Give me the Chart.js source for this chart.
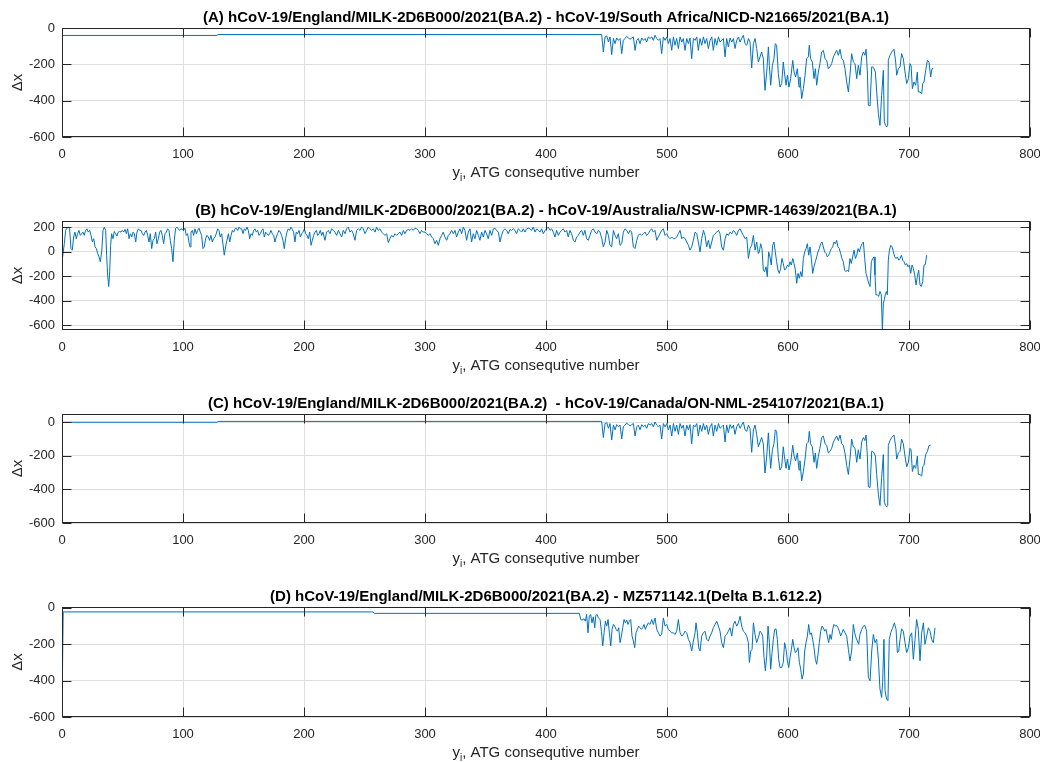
<!DOCTYPE html>
<html>
<head>
<meta charset="utf-8">
<script src="https://cdn.jsdelivr.net/npm/chart.js@4.4.0/dist/chart.umd.min.js"></script>
<style>
  body { margin: 0; background: #fff; }
  #wrap { position: relative; width: 1040px; height: 762px; }
  .panel { position: absolute; left: 0; width: 1040px; height: 193px; }
</style>
</head>
<body>
<div id="wrap">
  <div class="panel" style="top:0px"><canvas id="chartA"></canvas></div>
  <div class="panel" style="top:193px"><canvas id="chartB"></canvas></div>
  <div class="panel" style="top:386px"><canvas id="chartC"></canvas></div>
  <div class="panel" style="top:579px;height:194px"><canvas id="chartD"></canvas></div>
</div>
<script>
// Tick positions
const xTicks = [0, 100, 200, 300, 400, 500, 600, 700, 800];
const yTicksA = [0, -200, -400, -600];
const yTicksB = [200, 0, -200, -400, -600];
const yTicksC = [0, -200, -400, -600];
const yTicksD = [0, -200, -400, -600];

// Panel titles
const titleA = '(A) hCoV-19/England/MILK-2D6B000/2021(BA.2) - hCoV-19/South Africa/NICD-N21665/2021(BA.1)';
const titleB = '(B) hCoV-19/England/MILK-2D6B000/2021(BA.2) - hCoV-19/Australia/NSW-ICPMR-14639/2021(BA.1)';
const titleC = '(C) hCoV-19/England/MILK-2D6B000/2021(BA.2)  - hCoV-19/Canada/ON-NML-254107/2021(BA.1)';
const titleD = '(D) hCoV-19/England/MILK-2D6B000/2021(BA.2) - MZ571142.1(Delta B.1.612.2)';

// Series: [y_i, delta x]
const seriesA = [[0,-41],[128,-41],[129,-36],[446,-36],
[447.4,-132],[448.8,-49],[450.2,-44],[451.6,-77],[452.9,-49],[454.3,-147],[455.7,-58],[457.1,-86],[458.4,-55],[459.8,-68],[461.2,-58],[462.6,-141],[463.9,-68],[465.3,-58],[466.7,-46],[468.1,-55],[469.5,-62],[470.8,-55],[472.2,-49],[473.6,-123],[475.0,-68],[476.3,-58],[477.7,-86],[479.1,-55],[480.5,-68],[481.9,-58],[483.2,-77],[484.6,-49],[486.0,-58],[487.4,-49],[488.7,-68],[490.1,-40],[491.5,-58],[492.9,-68],[494.2,-58],[495.6,-141],[497.0,-49],[498.4,-68],[499.8,-49],[501.1,-86],[502.5,-58],[503.9,-123],[505.3,-49],[506.6,-95],[508.0,-58],[509.4,-113],[510.8,-49],[512.2,-77],[513.5,-58],[514.9,-123],[516.3,-58],[517.7,-86],[519.0,-55],[520.4,-169],[521.8,-58],[523.2,-68],[524.6,-49],[525.9,-123],[527.3,-58],[528.7,-95],[530.1,-49],[531.4,-86],[532.8,-58],[534.2,-113],[535.6,-68],[537.0,-49],[538.3,-123],[539.7,-58],[541.1,-95],[542.5,-49],[543.8,-77],[545.2,-68],[546.6,-58],[548.0,-159],[549.3,-58],[550.7,-104],[552.1,-55],[553.5,-77],[554.9,-58],[556.2,-113],[557.6,-68],[559.0,-49],[560.4,-77],[561.7,-58],[563.1,-40],[564.5,-86],[565.9,-95],[567.3,-58],[568.6,-77],[570.0,-220],[571.4,-86],[572.8,-58],[574.1,-113],[575.5,-187],
[578.2,-132],[579.6,-169],[581.0,-343],[582.4,-242],[583.8,-104],[584.6,-205],[585.7,-315],[587.1,-205],[588.4,-169],[589.5,-86],[590.6,-95],[592.0,-251],[593.4,-325],[594.8,-306],[596.1,-187],[597.0,-242],[598.4,-315],[599.5,-260],[600.8,-325],[602.2,-279],[603.9,-178],[605.0,-242],[606.3,-270],[607.7,-224],[609.1,-325],[609.9,-270],[611.3,-389],[612.7,-334],[614.1,-260],[615.4,-169],[616.8,-159],[617.6,-95],[618.7,-169],[620.1,-187],[621.5,-279],[622.6,-224],[623.7,-315],[625.1,-242],[626.4,-196],[627.8,-132],[629.2,-123],[630.6,-169],[632.0,-178],[633.3,-224],[634.7,-214],[636.1,-196],[637.5,-159],[638.8,-141],[640.2,-123],[641.6,-150],[643.0,-117],[644.4,-169],[645.7,-178],[647.1,-224],[648.5,-297],[649.9,-352],[651.2,-260],[652.6,-141],[654.0,-187],[655.4,-196],[656.8,-279],[658.1,-205],[659.5,-260],[660.9,-159],[662.3,-132],[663.6,-150],[664.5,-117],[665.6,-242],[666.4,-425],[667.8,-429],[669.2,-214],[670.0,-214],[671.1,-224],[672.2,-242],[673.3,-352],[674.7,-471],[676.0,-536],[677.4,-370],[678.8,-233],[679.6,-517],[680.7,-536],[681.5,-545],[682.4,-536],[682.9,-178],[684.3,-150],[685.7,-132],[687.6,-117],[689.0,-187],[689.8,-260],[691.2,-224],[692.6,-214],[693.9,-141],[695.3,-169],[696.7,-242],[698.1,-306],[699.5,-279],[700.8,-196],[701.7,-205],[702.8,-334],[704.1,-297],[705.5,-315],[706.9,-242],[707.7,-352],[709.1,-352],[710.5,-361],[711.3,-306],[712.4,-297],[713.8,-233],[715.2,-178],[716.5,-187],[717.9,-270],[719.0,-224],[720.1,-224]];

const seriesB = [[0,-81],[1.9,67],[3.0,176],[4.1,194],[5.2,203],[6.3,189],[7.4,27],[8.5,14],[9.6,122],[10.7,162],[11.8,108],[12.9,149],[14.0,176],[15.1,135],[16.2,149],[17.3,162],[18.4,135],[19.5,176],[20.6,189],[21.7,162],[22.9,176],[24.0,135],[25.1,81],[26.2,108],[27.3,41],[28.4,27],[29.5,-14],[30.6,-41],[31.7,-81],[32.8,0],[33.9,176],[35.0,203],[36.1,176],[36.9,-27],[37.7,-189],[38.6,-284],[39.4,-162],[40.2,54],[41.0,149],[42.1,108],[43.2,167],[44.3,149],[45.4,130],[46.5,162],[47.6,167],[48.7,162],[49.8,176],[51.0,162],[52.1,184],[53.2,149],[54.3,189],[55.4,108],[56.5,149],[57.6,122],[58.7,162],[59.8,149],[60.9,81],[62.0,162],[63.1,189],[64.2,176],[65.3,176],[66.4,149],[67.5,135],[68.6,162],[69.7,176],[70.8,135],[71.9,81],[73.0,149],[74.1,27],[75.2,95],[76.3,108],[77.4,162],[78.5,67],[79.6,108],[80.7,162],[81.8,176],[82.9,135],[84.0,67],[85.1,149],[86.2,162],[87.3,189],[88.4,176],[89.5,95],[90.6,27],[91.7,-81],[92.8,95],[93.9,194],[95.0,203],[96.1,189],[97.2,176],[98.3,189],[99.4,184],[100.5,176],[101.6,194],[102.7,135],[103.8,149],[104.9,81],[105.8,41],[106.6,162],[107.7,176],[108.8,135],[109.9,189],[111.0,149],[112.1,176],[113.2,194],[114.3,162],[115.4,135],[116.5,27],[117.6,41],[118.7,108],[119.8,135],[120.9,122],[122.0,95],[123.1,135],[124.2,81],[125.3,108],[126.4,122],[127.5,149],[128.6,189],[129.7,176],[130.8,122],[131.9,149],[133.0,67],[134.1,-27],[135.2,41],[136.3,95],[137.5,149],[138.6,81],[139.7,135],[140.8,176],[141.9,162],[143.0,189],[144.1,194],[145.2,176],[146.3,203],[147.4,189],[148.5,189],[149.6,149],[150.7,189],[151.8,176],[152.9,203],[154.0,176],[155.1,108],[156.2,149],[157.3,135],[158.4,176],[159.5,189],[160.6,162],[161.7,176],[162.8,135],[163.9,149],[165.0,176],[166.1,189],[167.2,122],[168.3,162],[169.4,149],[170.5,135],[171.6,149],[172.7,176],[173.8,149],[174.9,135],[176.0,81],[177.1,122],[178.2,149],[179.3,176],[180.4,162],[181.5,135],[182.6,95],[183.7,27],[184.8,108],[185.9,162],[187.0,189],[188.1,176],[189.2,203],[190.3,184],[191.4,162],[192.5,81],[193.6,162],[194.7,149],[195.9,176],[197.0,122],[198.1,149],[199.2,162],[200.3,189],[201.4,149],[202.5,135],[203.6,108],[204.7,162],[205.8,54],[206.9,95],[208.0,135],[209.1,162],[210.2,176],[211.3,135],[212.4,149],[213.5,176],[214.6,135],[215.7,162],
[217.3,95],[218.7,162],[220.1,176],[221.5,149],[222.8,189],[224.2,176],[225.6,162],[227.0,135],[228.4,176],[229.7,149],[231.1,122],[232.5,176],[233.9,149],[235.2,189],[236.6,203],[238.0,162],[239.4,176],[240.7,149],[242.1,95],[243.5,176],[244.9,189],[246.3,176],[247.6,203],[249.0,189],[250.4,149],[251.8,176],[253.1,203],[254.5,189],[255.9,176],[257.3,189],[258.7,162],[260.0,203],[261.4,176],[262.8,189],[264.2,162],[265.5,149],[266.9,135],[268.3,149],[269.7,76],[271.0,108],[272.4,135],[273.8,122],[275.2,149],[276.6,135],[277.9,149],[279.3,162],[280.7,135],[282.1,176],[283.4,149],[284.8,176],[286.2,184],[287.6,176],[288.9,189],[290.3,176],[291.7,194],[293.1,189],[294.5,176],[295.8,149],[297.2,176],[298.6,162],[300.0,162],[301.4,149],[302.7,135],[304.1,149],[305.5,122],[306.9,108],[308.2,67],[309.6,95],[311.0,54],[312.4,108],[313.8,135],[315.1,162],[316.5,122],[317.9,95],[319.3,135],[320.6,149],[322.0,176],[323.4,149],[324.8,176],[326.1,122],[327.5,162],[328.9,189],[330.3,149],[331.7,203],[333.0,176],[334.4,95],[335.8,162],[337.2,189],[338.5,81],[339.9,149],[341.3,108],[342.7,176],[344.1,135],[345.4,95],[346.8,162],[348.2,122],[349.6,176],[350.9,149],[352.3,108],[353.7,176],[355.1,135],[356.5,189],[357.8,194],[359.2,176],[360.6,162],[362.0,81],[363.3,135],[364.7,176],[366.1,189],[367.5,176],[368.8,149],[370.2,184],[371.6,176],[373.0,189],[374.4,176],[375.7,149],[377.1,189],[378.5,176],[379.9,162],[381.2,189],[382.6,162],[384.0,189],[385.4,194],[386.8,189],[388.1,176],[389.5,203],[390.9,162],[392.3,189],[393.6,176],[395.0,162],[396.4,189],[397.8,149],[399.2,176],[400.5,189],[401.9,203],[403.3,176],[404.7,189],[406.0,162],[407.4,122],[408.8,176],[410.2,135],[411.6,162],[412.9,176],[414.3,189],[415.7,162],[417.1,176],[418.4,122],[419.8,176],[421.2,149],[422.6,95],[424.0,81],[425.3,122],[426.7,135],[428.1,162],[429.5,176],[430.8,135],[432.2,176],[433.6,108],[435.0,95],[436.3,135],[437.7,176],[439.1,189],[440.5,162],[441.9,149],[443.2,176],[444.6,162],
[446.1,108],[447.4,41],[448.8,81],[450.2,176],[451.6,135],[452.9,54],[454.3,41],[455.7,176],[457.1,135],[458.4,108],[459.8,149],[461.2,54],[462.6,67],[463.9,162],[465.3,189],[466.7,176],[468.1,149],[469.5,176],[470.8,162],[472.2,41],[473.6,27],[475.0,95],[476.3,135],[477.7,149],[479.1,135],[480.5,149],[481.9,162],[483.2,135],[484.6,149],[486.0,176],[487.4,189],[488.7,162],[490.1,176],[491.5,95],[492.9,122],[494.2,149],[495.6,176],[497.0,189],[498.4,135],[499.8,149],[501.1,122],[502.5,108],[503.9,122],[505.3,108],[506.6,108],[508.0,122],[509.4,149],[510.8,176],[512.2,108],[513.5,122],[514.9,108],[516.3,81],[517.7,54],[519.0,14],[520.4,41],[521.8,95],[523.2,162],[524.6,149],[525.9,81],[527.3,0],[528.7,108],[530.1,176],[531.4,135],[532.8,41],[534.2,95],[535.6,27],[537.0,81],[538.3,135],[539.7,149],[541.1,162],[542.5,176],[543.8,149],[545.2,41],[546.6,14],[548.0,108],[549.3,149],[550.7,135],[552.1,162],[553.5,149],[554.9,176],[556.2,162],[557.6,135],[559.0,176],[560.4,189],[561.7,162],[563.1,135],[564.5,108],[565.9,122],[567.3,-54],[568.6,27],[570.0,54],[571.4,135],[572.8,14],[574.1,81],[575.5,-14],
[576.3,0],[577.4,67],[578.5,27],[579.6,-149],[580.7,-162],[581.8,-122],[582.9,-203],[584.0,0],[585.1,-41],[586.2,-108],[587.3,54],[588.4,81],[589.5,0],[590.6,-81],[591.7,-149],[592.8,-176],[593.9,-135],[595.0,-54],[596.1,-95],[597.2,-149],[598.4,-135],[599.5,-108],[600.6,-122],[601.7,-81],[602.8,-108],[603.9,-54],[605.0,-95],[606.1,-149],[607.2,-257],[608.3,-176],[609.4,-216],[610.5,-162],[611.6,-203],[612.7,-54],[613.8,0],[614.9,27],[616.0,67],[617.1,-27],[618.2,41],[619.3,-54],[620.4,-176],[621.5,-122],[622.6,-81],[623.7,-41],[624.8,0],[625.9,27],[627.0,67],[628.1,81],[629.2,41],[630.3,0],[631.4,-14],[632.5,-41],[633.6,-27],[634.7,0],[635.8,27],[636.9,41],[638.0,81],[639.1,67],[640.2,95],[641.3,41],[642.4,27],[643.5,-14],[644.6,-54],[645.7,-81],[646.8,-149],[647.9,-162],[649.0,-149],[650.1,-162],[651.2,-54],[652.3,-95],[653.4,-41],[654.6,14],[655.7,-54],[656.8,-27],[657.9,27],[659.0,0],[660.1,41],[661.2,67],[662.3,81],[663.4,-54],[664.5,-176],[665.6,-216],[666.7,-257],[667.8,-284],[668.9,-81],[670.0,-54],[671.1,-41],[671.9,-189],[672.7,-351],[673.8,-351],[674.9,-365],[676.0,-324],[677.1,-351],[678.0,-640],[678.8,-419],[679.6,-392],[680.4,-351],[681.3,-324],[682.1,-351],[682.9,-68],[683.8,14],[684.9,54],[686.0,41],[687.1,0],[688.2,-41],[689.3,-54],[690.4,-41],[691.5,-68],[692.6,-54],[693.7,-27],[694.8,-68],[695.9,-81],[697.0,-108],[698.1,-95],[699.2,-122],[700.3,-108],[701.4,-176],[702.5,-108],[703.6,-135],[704.7,-189],[705.8,-270],[706.9,-203],[708.0,-149],[709.1,-270],[710.2,-284],[711.3,-243],[712.4,-108],[713.5,-103],[714.6,-27]];

const seriesC = [[0,-1],[128,-1],[129,4],[446,4],
[447.4,-92],[448.8,-9],[450.2,-4],[451.6,-37],[452.9,-9],[454.3,-107],[455.7,-18],[457.1,-46],[458.4,-15],[459.8,-28],[461.2,-18],[462.6,-101],[463.9,-28],[465.3,-18],[466.7,-6],[468.1,-15],[469.5,-22],[470.8,-15],[472.2,-9],[473.6,-83],[475.0,-28],[476.3,-18],[477.7,-46],[479.1,-15],[480.5,-28],[481.9,-18],[483.2,-37],[484.6,-9],[486.0,-18],[487.4,-9],[488.7,-28],[490.1,0],[491.5,-18],[492.9,-28],[494.2,-18],[495.6,-101],[497.0,-9],[498.4,-28],[499.8,-9],[501.1,-46],[502.5,-18],[503.9,-83],[505.3,-9],[506.6,-55],[508.0,-18],[509.4,-73],[510.8,-9],[512.2,-37],[513.5,-18],[514.9,-83],[516.3,-18],[517.7,-46],[519.0,-15],[520.4,-129],[521.8,-18],[523.2,-28],[524.6,-9],[525.9,-83],[527.3,-18],[528.7,-55],[530.1,-9],[531.4,-46],[532.8,-18],[534.2,-73],[535.6,-28],[537.0,-9],[538.3,-83],[539.7,-18],[541.1,-55],[542.5,-9],[543.8,-37],[545.2,-28],[546.6,-18],[548.0,-119],[549.3,-18],[550.7,-64],[552.1,-15],[553.5,-37],[554.9,-18],[556.2,-73],[557.6,-28],[559.0,-9],[560.4,-37],[561.7,-18],[563.1,0],[564.5,-46],[565.9,-55],[567.3,-18],[568.6,-37],[570.0,-180],[571.4,-46],[572.8,-18],[574.1,-73],[575.5,-147],
[578.2,-92],[579.6,-129],[581.0,-303],[582.4,-202],[583.8,-64],[584.6,-165],[585.7,-275],[587.1,-165],[588.4,-129],[589.5,-46],[590.6,-55],[592.0,-211],[593.4,-285],[594.8,-266],[596.1,-147],[597.0,-202],[598.4,-275],[599.5,-220],[600.8,-285],[602.2,-239],[603.9,-138],[605.0,-202],[606.3,-230],[607.7,-184],[609.1,-285],[609.9,-230],[611.3,-349],[612.7,-294],[614.1,-220],[615.4,-129],[616.8,-119],[617.6,-55],[618.7,-129],[620.1,-147],[621.5,-239],[622.6,-184],[623.7,-275],[625.1,-202],[626.4,-156],[627.8,-92],[629.2,-83],[630.6,-129],[632.0,-138],[633.3,-184],[634.7,-174],[636.1,-156],[637.5,-119],[638.8,-101],[640.2,-83],[641.6,-110],[643.0,-77],[644.4,-129],[645.7,-138],[647.1,-184],[648.5,-257],[649.9,-312],[651.2,-220],[652.6,-101],[654.0,-147],[655.4,-156],[656.8,-239],[658.1,-165],[659.5,-220],[660.9,-119],[662.3,-92],[663.6,-110],[664.5,-77],[665.6,-202],[666.4,-385],[667.8,-389],[669.2,-174],[670.0,-174],[671.1,-184],[672.2,-202],[673.3,-312],[674.7,-431],[676.0,-496],[677.4,-330],[678.8,-193],[679.6,-477],[680.7,-496],[681.5,-505],[682.4,-496],[682.9,-138],[684.3,-110],[685.7,-92],[687.6,-77],[689.0,-147],[689.8,-220],[691.2,-184],[692.6,-174],[693.9,-101],[695.3,-129],[696.7,-202],[698.1,-266],[699.5,-239],[700.8,-156],[701.7,-165],[702.8,-294],[704.1,-257],[705.5,-275],[706.9,-202],[707.7,-312],[709.1,-312],[710.5,-321],[711.3,-266],[712.4,-257],[713.8,-193],[715.2,-175],[716.5,-140],[717.9,-137]];

const seriesD = [[0,-555],[1,-22],[257,-22],[258,-30],[427.6,-30],
[428.7,-64],[429.8,-67],[431.4,-60],[432.5,-73],[433.6,-36],[434.7,-137],[435.8,-46],[436.9,-36],[438.0,-82],[439.1,-49],[440.3,-109],[441.1,-42],[442.2,-36],[443.3,-55],[444.7,-64],[445.8,-128],[446.9,-209],[448.0,-137],[449.1,-73],[450.2,-100],[451.3,-64],[452.4,-137],[453.5,-209],[454.6,-118],[455.7,-91],[456.8,-100],[457.9,-118],[459.0,-128],[460.1,-109],[461.2,-191],[462.3,-155],[463.4,-109],[464.5,-64],[465.6,-82],[466.7,-67],[467.8,-91],[468.9,-73],[470.0,-64],[471.1,-155],[472.2,-182],[473.3,-219],[474.4,-137],[475.5,-118],[476.6,-100],[477.7,-109],[478.8,-118],[479.9,-109],[481.0,-91],[482.1,-118],[483.2,-100],[484.6,-82],[486.0,-91],[487.4,-64],[488.7,-91],[490.1,-55],[491.5,-118],[492.9,-137],[494.2,-155],[495.6,-146],[497.0,-55],[498.4,-100],[499.8,-91],[501.1,-118],[502.5,-128],[503.9,-137],[505.3,-137],[506.6,-146],[508.0,-128],[509.4,-64],[510.8,-137],[512.2,-155],[513.5,-146],[514.9,-128],[516.3,-137],[517.7,-173],[519.0,-191],[520.4,-237],[521.8,-182],[523.2,-137],[524.0,-82],[525.1,-137],[526.2,-219],[527.3,-237],[528.7,-155],[530.1,-137],[531.4,-128],[532.8,-173],[534.2,-182],[535.6,-155],[536.9,-137],[538.3,-109],[539.7,-91],[541.1,-73],[542.5,-100],[543.8,-128],[545.2,-191],[546.6,-219],[548.0,-155],[549.3,-146],[550.7,-128],[552.1,-109],[553.5,-155],[554.9,-91],[556.2,-73],[557.6,-100],[559.0,-82],[560.4,-46],[561.7,-100],[563.1,-128],[564.5,-137],[565.9,-155],[567.2,-191],[568.1,-300],[569.2,-237],[570.3,-228],[571.4,-82],[572.5,-137],[574.1,-191],[575.5,-164],
[576.9,-128],[578.0,-137],[579.1,-155],[580.2,-273],[581.3,-346],[582.4,-264],[583.5,-100],[584.6,-191],[585.7,-337],[586.8,-246],[587.9,-173],[589.0,-118],[590.1,-115],[591.2,-173],[592.3,-282],[593.4,-328],[594.8,-328],[596.1,-300],[597.2,-191],[598.4,-228],[599.5,-291],[600.6,-328],[601.7,-273],[602.8,-228],[603.9,-173],[605.0,-219],[606.1,-246],[607.2,-237],[608.3,-219],[609.4,-300],[610.5,-337],[611.6,-392],[612.7,-364],[613.8,-237],[614.9,-191],[616.0,-155],[617.1,-91],[618.2,-146],[619.3,-137],[620.4,-173],[621.5,-219],[622.6,-282],[623.7,-310],[624.8,-255],[625.9,-191],[627.0,-128],[628.1,-100],[629.2,-109],[630.3,-128],[631.4,-118],[632.5,-155],[633.6,-191],[634.7,-146],[635.8,-173],[636.9,-118],[638.0,-91],[639.1,-100],[640.2,-97],[641.3,-109],[642.4,-128],[643.5,-155],[644.6,-137],[645.7,-118],[647.1,-137],[648.5,-155],[649.9,-228],[651.2,-291],[652.6,-237],[654.0,-91],[655.1,-137],[656.2,-164],[657.3,-182],[658.4,-200],[659.5,-146],[660.9,-118],[662.3,-100],[663.6,-97],[665.0,-128],[666.4,-382],[667.8,-401],[669.2,-237],[670.5,-146],[671.9,-191],[673.3,-173],[674.7,-282],[676.0,-446],[677.4,-492],[678.2,-410],[679.3,-173],[680.2,-455],[681.5,-501],[682.6,-510],[683.7,-173],[684.9,-137],[686.5,-109],[687.9,-82],[689.3,-118],[690.4,-246],[691.5,-237],[692.6,-173],[693.9,-115],[695.3,-128],[696.7,-191],[698.1,-246],[699.5,-219],[700.8,-155],[702.2,-137],[703.6,-282],[705.0,-173],[706.3,-64],[707.7,-118],[709.1,-291],[710.5,-137],[711.9,-82],[713.2,-200],[714.6,-155],[716.0,-109],[717.4,-128],[718.7,-173],[720.1,-191],[721.5,-109]];

const FONT = "'Liberation Sans', Arial, Helvetica, sans-serif";
const axisColor = '#262626';
const gridColor = '#dedede';
const lineColor = '#0072bd';

// Draws the MATLAB-like box, inward ticks, title and axis labels
const framePlugin = {
    id: 'frame',
    afterDatasetsDraw(chart, args, opts) {
        const { ctx, chartArea: a, scales } = chart;
        const L = Math.round(a.left) + 0.5, R = Math.round(a.right) - 0.5;
        const T = Math.round(a.top) + 0.5, B = Math.round(a.bottom) - 0.5;
        ctx.save();
        ctx.strokeStyle = axisColor;
        ctx.lineWidth = 1;
        ctx.strokeRect(L, T, R - L, B - T);
        const tl = 9;
        ctx.beginPath();
        xTicks.forEach(v => {
            const px = Math.round(scales.x.getPixelForValue(v)) + 0.5;
            ctx.moveTo(px, B); ctx.lineTo(px, B - tl);
            ctx.moveTo(px, T); ctx.lineTo(px, T + tl);
        });
        opts.yTicks.forEach(v => {
            const py = Math.round(scales.y.getPixelForValue(v)) + 0.5;
            ctx.moveTo(L, py); ctx.lineTo(L + tl, py);
            ctx.moveTo(R, py); ctx.lineTo(R - tl, py);
        });
        ctx.stroke();

        const cx = (a.left + a.right) / 2;
        // title
        ctx.fillStyle = '#000';
        ctx.font = 'bold 15px ' + FONT;
        ctx.textAlign = 'center';
        ctx.textBaseline = 'middle';
        ctx.fillText(opts.title, cx, a.top - 10);

        // x label with subscript i
        ctx.fillStyle = axisColor;
        const mainFont = '15px ' + FONT, subFont = '10px ' + FONT;
        ctx.font = mainFont;
        const w1 = ctx.measureText('y').width;
        const w3 = ctx.measureText(', ATG consequtive number').width;
        ctx.font = subFont;
        const w2 = ctx.measureText('i').width;
        let x0 = cx - (w1 + w2 + w3) / 2;
        const yl = a.bottom + 36;
        ctx.textAlign = 'left';
        ctx.textBaseline = 'middle';
        ctx.font = mainFont;
        ctx.fillText('y', x0, yl);
        ctx.font = subFont;
        ctx.fillText('i', x0 + w1, yl + 5);
        ctx.font = mainFont;
        ctx.fillText(', ATG consequtive number', x0 + w1 + w2, yl);

        // y label
        ctx.translate(18, (a.top + a.bottom) / 2);
        ctx.rotate(-Math.PI / 2);
        ctx.textAlign = 'center';
        ctx.fillText('\u0394x', 0, 0);
        ctx.restore();
    }
};

function makePanel(id, title, series, yTicks, yMin, yMax) {
    const ctx = document.getElementById(id).getContext('2d');
    return new Chart(ctx, {
        type: 'line',
        data: {
            datasets: [{
                data: series.map(p => ({ x: p[0], y: p[1] })),
                borderColor: lineColor,
                borderWidth: 1,
                pointRadius: 0,
                fill: false,
                tension: 0
            }]
        },
        options: {
            responsive: true,
            maintainAspectRatio: false,
            animation: false,
            events: [],
            layout: { padding: { top: 28, right: 10, left: 0, bottom: 0 } },
            plugins: {
                legend: { display: false },
                tooltip: { enabled: false },
                frame: { title: title, yTicks: yTicks }
            },
            scales: {
                x: {
                    type: 'linear',
                    min: 0,
                    max: 800,
                    afterBuildTicks: s => { s.ticks = xTicks.map(v => ({ value: v })); },
                    afterFit: s => { s.height = 56; s.paddingLeft = 0; s.paddingRight = 0; },
                    grid: { color: gridColor, drawTicks: false },
                    border: { display: false },
                    ticks: { color: axisColor, font: { family: FONT, size: 13 }, padding: 10, maxRotation: 0 }
                },
                y: {
                    type: 'linear',
                    min: yMin,
                    max: yMax,
                    afterBuildTicks: s => { s.ticks = yTicks.map(v => ({ value: v })); },
                    afterFit: s => { s.width = 62; s.paddingTop = 0; s.paddingBottom = 0; },
                    grid: { color: gridColor, drawTicks: false },
                    border: { display: false },
                    ticks: { color: axisColor, font: { family: FONT, size: 13 }, padding: 7 }
                }
            }
        },
        plugins: [framePlugin]
    });
}

makePanel('chartA', titleA, seriesA, yTicksA, -600, 0);
makePanel('chartB', titleB, seriesB, yTicksB, -640, 253);
makePanel('chartC', titleC, seriesC, yTicksC, -600, 48);
makePanel('chartD', titleD, seriesD, yTicksD, -600, 5);
</script>
</body>
</html>
